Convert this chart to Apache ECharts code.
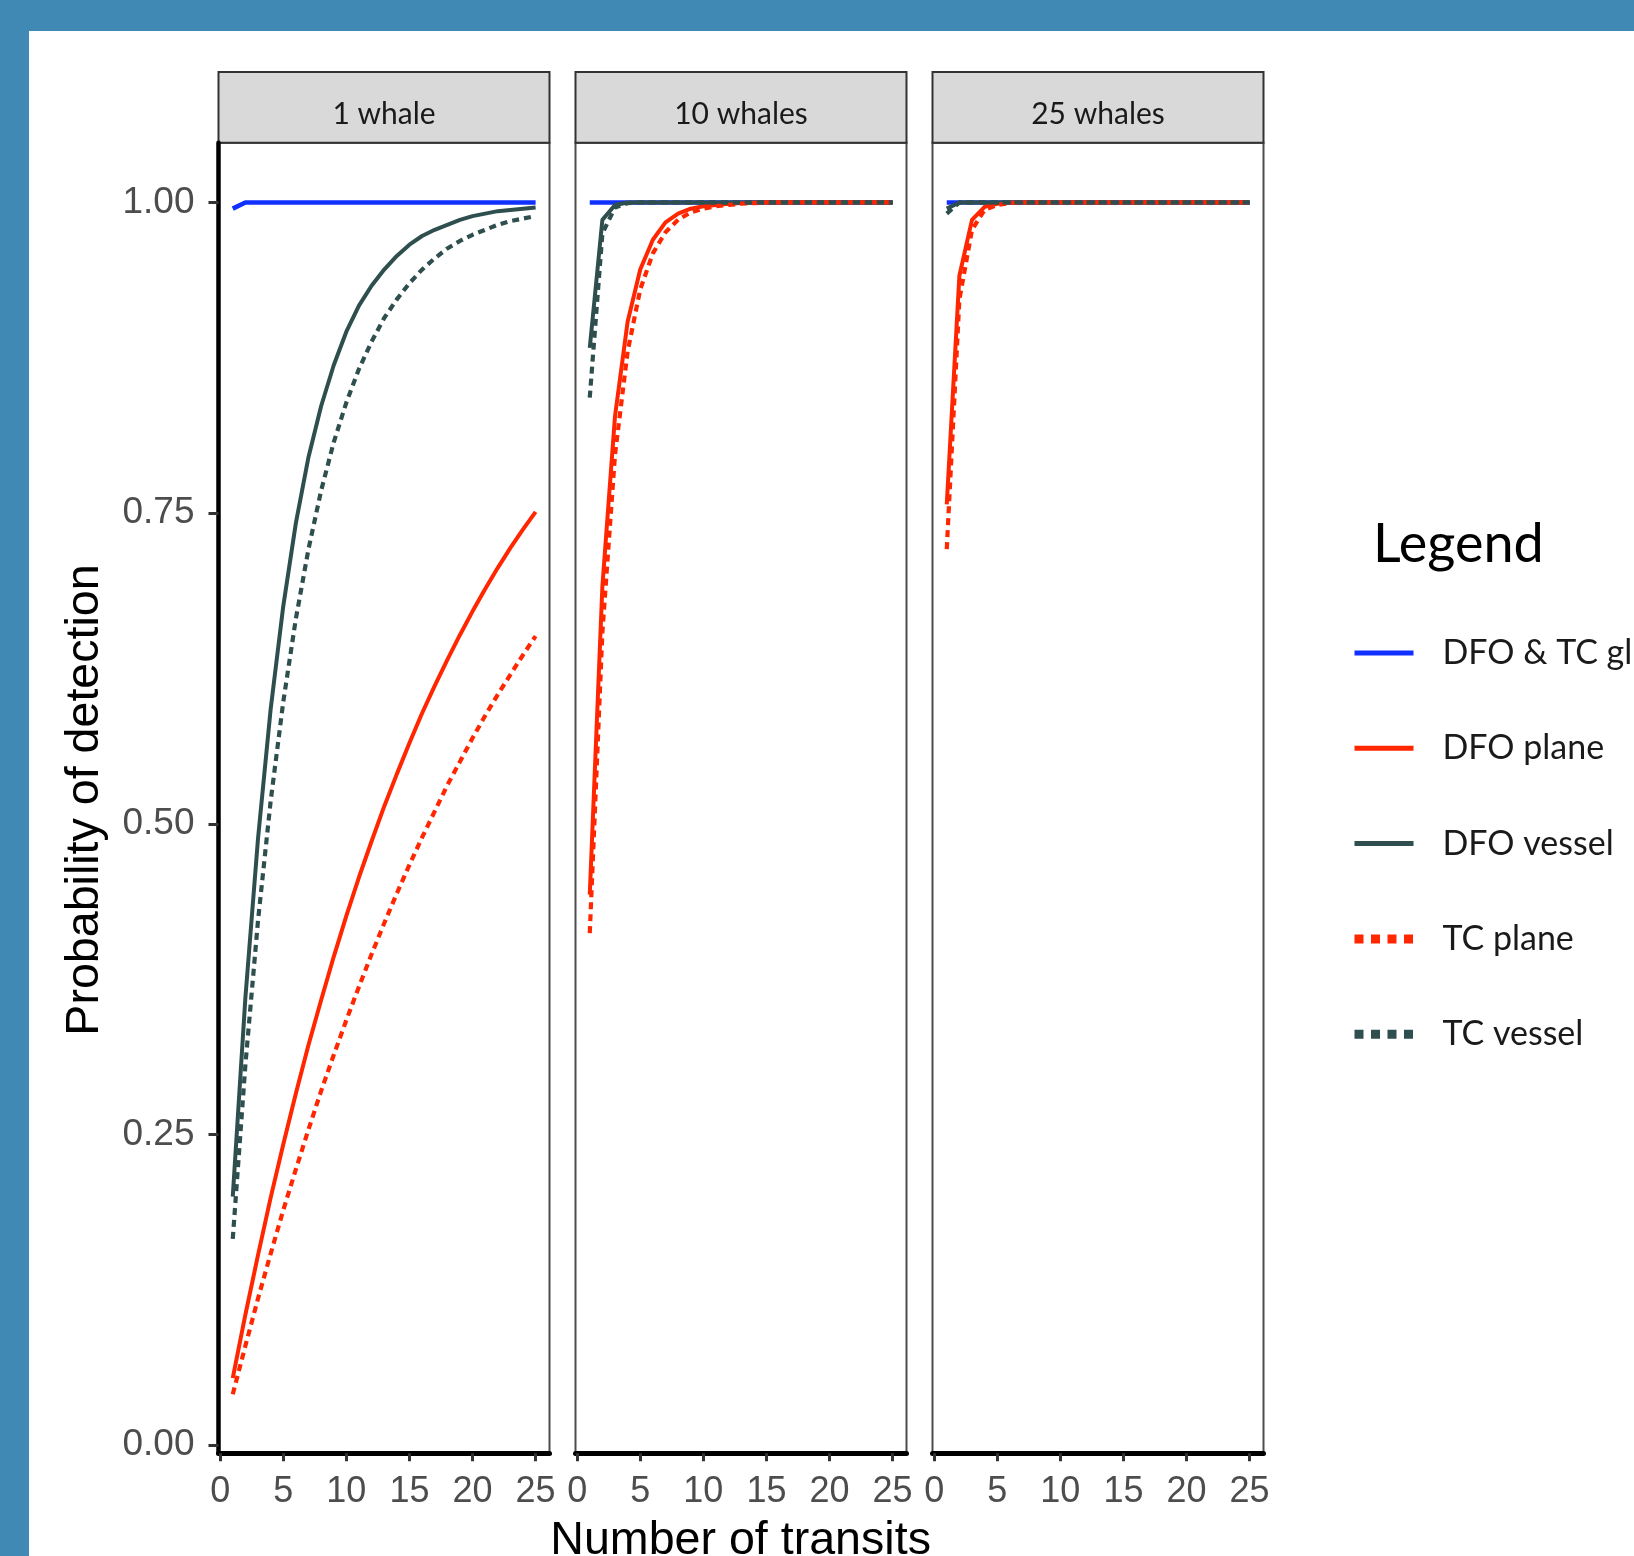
<!DOCTYPE html>
<html><head><meta charset="utf-8">
<script src="https://cdn.jsdelivr.net/npm/echarts@6/dist/echarts.min.js"></script>
<style>
html,body{margin:0;padding:0;width:1634px;height:1556px;overflow:hidden;background:#4089b5;}
#bg{position:absolute;left:29px;top:31px;width:1605px;height:1525px;background:#fff;}
#chart{position:absolute;left:0;top:0;width:1634px;height:1556px;}
</style></head><body><div id="bg"></div><div id="chart"></div>
<script>
// ---------- data ----------
const transits = [1,2,3,4,5,6,7,8,9,10,11,12,13,14,15,16,17,18,19,20,21,22,23,24,25];
const panelTitles = ['1 whale', '10 whales', '25 whales'];
const seriesNames = ['DFO & TC glider', 'DFO plane', 'DFO vessel', 'TC plane', 'TC vessel'];
const xTicks = [0, 5, 10, 15, 20, 25];
const yTicks = [0, 0.25, 0.5, 0.75, 1];

// 1 whale
const glider1    = [0.995,1,1,1,1,1,1,1,1,1,1,1,1,1,1,1,1,1,1,1,1,1,1,1,1];
const dfoPlane1  = [0.054,0.105,0.153,0.199,0.242,0.283,0.322,0.358,0.393,0.426,0.457,0.486,0.514,0.540,0.565,0.589,0.611,0.632,0.652,0.671,0.689,0.706,0.722,0.737,0.751];
const dfoVessel1 = [0.200,0.360,0.488,0.592,0.675,0.742,0.795,0.836,0.869,0.896,0.917,0.933,0.946,0.957,0.966,0.973,0.978,0.982,0.986,0.989,0.991,0.993,0.994,0.995,0.996];
const tcPlane1   = [0.041,0.080,0.118,0.154,0.189,0.222,0.254,0.285,0.314,0.342,0.369,0.395,0.420,0.444,0.467,0.489,0.510,0.531,0.550,0.569,0.587,0.604,0.620,0.636,0.651];
const tcVessel1  = [0.166,0.306,0.422,0.518,0.598,0.665,0.721,0.768,0.807,0.839,0.866,0.888,0.907,0.922,0.935,0.946,0.955,0.963,0.969,0.974,0.978,0.982,0.985,0.987,0.989];

// 10 whales
const glider10    = [1,1,1,1,1,1,1,1,1,1,1,1,1,1,1,1,1,1,1,1,1,1,1,1,1];
const dfoPlane10  = [0.443,0.691,0.828,0.904,0.946,0.970,0.984,0.991,0.995,0.997,0.998,0.999,0.9995,1,1,1,1,1,1,1,1,1,1,1,1];
const dfoVessel10 = [0.883,0.986,0.998,1,1,1,1,1,1,1,1,1,1,1,1,1,1,1,1,1,1,1,1,1,1];
const tcPlane10   = [0.412,0.654,0.797,0.880,0.930,0.959,0.976,0.986,0.992,0.995,0.997,0.998,0.999,0.9995,1,1,1,1,1,1,1,1,1,1,1];
const tcVessel10  = [0.843,0.975,0.996,0.9994,1,1,1,1,1,1,1,1,1,1,1,1,1,1,1,1,1,1,1,1,1];

// 25 whales
const glider25    = [1,1,1,1,1,1,1,1,1,1,1,1,1,1,1,1,1,1,1,1,1,1,1,1,1];
const dfoPlane25  = [0.757,0.941,0.986,0.9965,0.999,1,1,1,1,1,1,1,1,1,1,1,1,1,1,1,1,1,1,1,1];
const dfoVessel25 = [0.995,1,1,1,1,1,1,1,1,1,1,1,1,1,1,1,1,1,1,1,1,1,1,1,1];
const tcPlane25   = [0.721,0.922,0.978,0.994,0.998,0.9995,1,1,1,1,1,1,1,1,1,1,1,1,1,1,1,1,1,1,1];
const tcVessel25  = [0.991,1,1,1,1,1,1,1,1,1,1,1,1,1,1,1,1,1,1,1,1,1,1,1,1];

const panelData = [
  [glider1, dfoPlane1, dfoVessel1, tcPlane1, tcVessel1],
  [glider10, dfoPlane10, dfoVessel10, tcPlane10, tcVessel10],
  [glider25, dfoPlane25, dfoVessel25, tcPlane25, tcVessel25]
];

// ---------- styles ----------
const seriesStyles = [
  {color: '#1030ff', width: 4.6, type: 'solid'},
  {color: '#ff2600', width: 4, type: 'solid'},
  {color: '#2f4f4f', width: 4, type: 'solid'},
  {color: '#ff2600', width: 4.2, type: [7, 5]},
  {color: '#2f4f4f', width: 4.2, type: [7, 5]}
];
const legendStyles = [
  {color: '#1030ff', width: 5, type: 'solid'},
  {color: '#ff2600', width: 5, type: 'solid'},
  {color: '#2f4f4f', width: 5, type: 'solid'},
  {color: '#ff2600', width: 9, type: [9, 7.5]},
  {color: '#2f4f4f', width: 9, type: [9, 7.5]}
];
const gridLefts = [218.5, 575.5, 932.5];
const gridTop = 142.8, gridW = 331, gridH = 1310.5;

const grids = [], xAxes = [], yAxes = [], series = [];
panelTitles.forEach((t, p) => {
  grids.push({left: gridLefts[p], top: gridTop, width: gridW, height: gridH,
    show: true, borderColor: '#4d4d4d', borderWidth: 2, backgroundColor: 'transparent'});
  xAxes.push({gridIndex: p, type: 'value', min: -0.13, max: 26.1,
    axisLine: {show: true, onZero: false, lineStyle: {color: '#000', width: 5}},
    axisTick: {show: true, length: 8, customValues: xTicks, lineStyle: {color: '#333', width: 3}},
    axisLabel: {show: true, customValues: xTicks, fontSize: 36, fontFamily: 'Liberation Sans', color: '#4d4d4d', margin: 21},
    splitLine: {show: false}});
  yAxes.push({gridIndex: p, type: 'value', min: -0.0065, max: 1.048,
    axisLine: {show: p === 0, onZero: false, lineStyle: {color: '#000', width: 4.5}},
    axisTick: {show: p === 0, length: 10, customValues: yTicks, lineStyle: {color: '#333', width: 3}},
    axisLabel: {show: p === 0, customValues: yTicks, formatter: v => v.toFixed(2),
      fontSize: 37, fontFamily: 'Liberation Sans', color: '#4d4d4d', margin: 24},
    splitLine: {show: false}});
  panelData[p].forEach((arr, k) => {
    const st = seriesStyles[k];
    series.push({type: 'line', name: seriesNames[k], xAxisIndex: p, yAxisIndex: p,
      data: transits.map((x, j) => [x, arr[j]]),
      symbol: 'none', showSymbol: false, clip: true,
      lineStyle: {color: st.color, width: st.width, type: st.type, cap: 'butt'},
      itemStyle: {color: st.color},
      emphasis: {disabled: true}});
  });
});

const graphic = [];
panelTitles.forEach((t, p) => {
  graphic.push({type: 'rect', shape: {x: gridLefts[p], y: 72, width: gridW, height: 70.8},
    style: {fill: '#d9d9d9', stroke: '#333', lineWidth: 2}});
  graphic.push({type: 'text', x: gridLefts[p] + gridW / 2, y: 114.5,
    style: {text: t, fontSize: 30, fontFamily: 'Lato', fill: '#1a1a1a', align: 'center', verticalAlign: 'middle'}});
});
graphic.push({type: 'text', x: 85, y: 800, rotation: Math.PI / 2,
  style: {text: 'Probability of detection', fontSize: 46.6, fontFamily: 'Liberation Sans', fill: '#000', align: 'center', verticalAlign: 'middle'}});
graphic.push({type: 'text', x: 740.6, y: 1541,
  style: {text: 'Number of transits', fontSize: 46.6, fontFamily: 'Liberation Sans', fill: '#000', align: 'center', verticalAlign: 'middle'}});
graphic.push({type: 'text', x: 1373, y: 545,
  style: {text: 'Legend', fontSize: 54, fontFamily: 'Lato', fill: '#000', align: 'left', verticalAlign: 'middle'}});

const chart = echarts.init(document.getElementById('chart'), null, {renderer: 'canvas'});
chart.setOption({
  animation: false,
  backgroundColor: 'transparent',
  grid: grids, xAxis: xAxes, yAxis: yAxes, series: series,
  legend: {
    orient: 'vertical', left: 1350, top: 633, padding: 0,
    itemWidth: 59, itemHeight: 20, itemGap: 55.3,
    selectedMode: false,
    textStyle: {fontSize: 34, fontFamily: 'Lato', color: '#1a1a1a', lineHeight: 40, padding: [0, 0, 0, 24]},
    data: seriesNames.map((n, k) => ({name: n,
      lineStyle: {color: legendStyles[k].color, width: legendStyles[k].width, type: legendStyles[k].type, cap: 'butt'},
      itemStyle: {color: 'rgba(0,0,0,0)', borderColor: 'rgba(0,0,0,0)', borderWidth: 0, opacity: 0}}))
  },
  graphic: graphic
});
</script></body></html>
